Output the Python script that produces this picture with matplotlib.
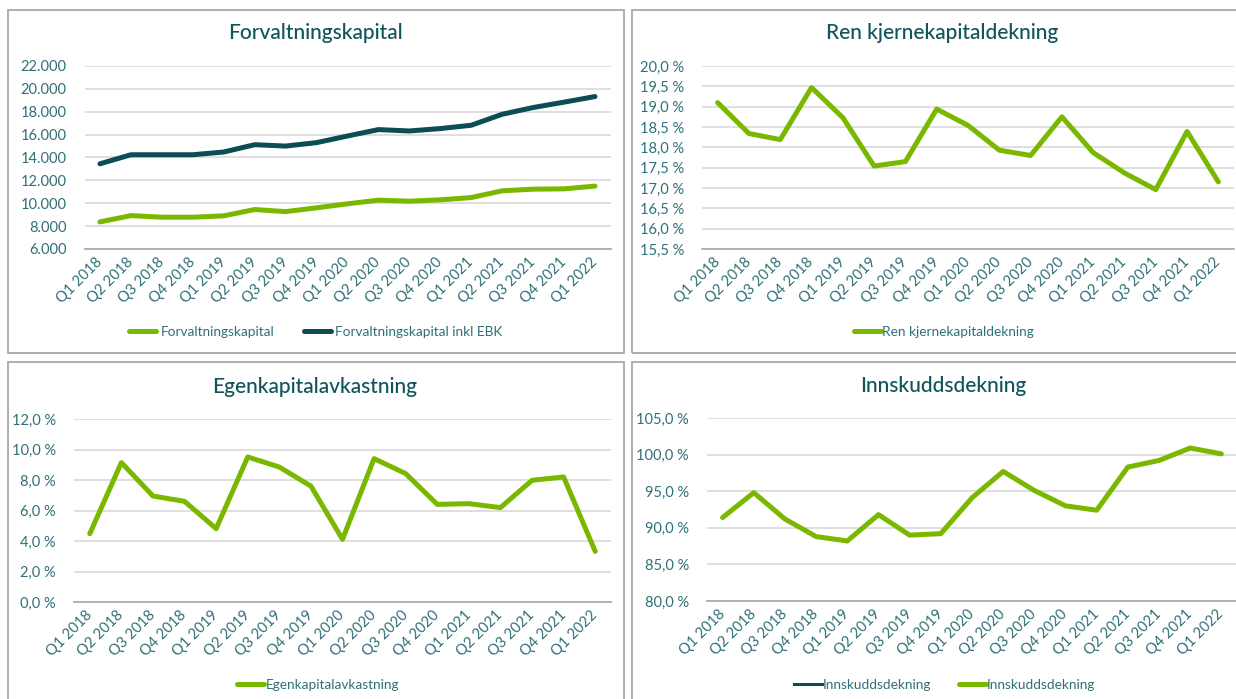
import matplotlib
matplotlib.use("Agg")
import matplotlib.pyplot as plt
from matplotlib.patches import Rectangle
from matplotlib.ticker import FuncFormatter

plt.rcParams['font.family'] = ['Lato', 'DejaVu Sans']

W, H = 1236, 699

quarters = ["Q1 2018", "Q2 2018", "Q3 2018", "Q4 2018",
            "Q1 2019", "Q2 2019", "Q3 2019", "Q4 2019",
            "Q1 2020", "Q2 2020", "Q3 2020", "Q4 2020",
            "Q1 2021", "Q2 2021", "Q3 2021", "Q4 2021",
            "Q1 2022"]

# Forvaltningskapital (MNOK)
forvaltning = [8370, 8920, 8780, 8780, 8900, 9450, 9270, 9600, 9950,
               10270, 10180, 10300, 10500, 11090, 11230, 11260, 11500]
forvaltning_ebk = [13450, 14240, 14240, 14240, 14480, 15120, 15000, 15300, 15880,
                   16440, 16320, 16530, 16820, 17780, 18370, 18840, 19330]

# Ren kjernekapitaldekning (%)
ren_kjerne = [19.10, 18.34, 18.19, 19.47, 18.73, 17.54, 17.65, 18.94, 18.54,
              17.93, 17.80, 18.75, 17.87, 17.37, 16.96, 18.39, 17.15]

# Egenkapitalavkastning (%)
egenkap = [4.48, 9.14, 6.95, 6.60, 4.81, 9.51, 8.85, 7.60, 4.11,
           9.40, 8.42, 6.40, 6.45, 6.19, 7.98, 8.20, 3.32]

# Innskuddsdekning (%)
innskudd = [91.4, 94.8, 91.2, 88.8, 88.2, 91.8, 89.0, 89.2, 94.1,
            97.7, 95.1, 93.0, 92.4, 98.3, 99.2, 100.9, 100.1]

GREEN = "#7ab800"
DARK = "#0b4c55"
TEXT = "#2f7078"
TITLE = "#10545c"
GRID = "#d9d9d9"

fig = plt.figure(figsize=(W / 100, H / 100), dpi=100)


def px_axes(x0, y0, x1, y1):
    return fig.add_axes([x0 / W, 1 - y1 / H, (x1 - x0) / W, (y1 - y0) / H])


def panel(x0, y0, x1, y1):
    fig.patches.append(Rectangle((x0 / W, 1 - y1 / H), (x1 - x0) / W, (y1 - y0) / H,
                                 transform=fig.transFigure, fill=False,
                                 edgecolor="#a8a8a8", linewidth=1.3))


def style(ax, ymin, ymax, step, fmt, title, tx, ty):
    x = list(range(len(quarters)))
    ax.set_xlim(-0.5, len(quarters) - 0.5)
    ax.set_ylim(ymin, ymax)
    ticks = []
    v = ymin
    while v <= ymax + 1e-9:
        ticks.append(v)
        v += step
    ax.set_yticks(ticks)
    ax.yaxis.set_major_formatter(FuncFormatter(fmt))
    ax.set_xticks(x)
    ax.set_xticklabels(quarters, rotation=45, ha="right", va="center",
                       rotation_mode="anchor")
    for s in ["top", "right", "left"]:
        ax.spines[s].set_visible(False)
    ax.spines["bottom"].set_color("#a6a6a6")
    ax.spines["bottom"].set_linewidth(1.2)
    ax.grid(axis="y", color=GRID, linewidth=1.2)
    ax.set_axisbelow(True)
    ax.tick_params(axis="both", length=0, labelsize=10.5, labelcolor=TEXT)
    ax.tick_params(axis="x", pad=8)
    ax.tick_params(axis="y", pad=13)
    fig.text(tx / W, 1 - ty / H, title, ha="center", va="center",
             fontsize=15, fontweight="medium", color=TITLE)


def thousands(v, pos):
    return f"{int(v):,}".replace(",", ".")


def pct(v, pos):
    return f"{v:.1f}".replace(".", ",") + " %"


panel(8, 10, 624, 353)
panel(632, 10, 1245, 353)
panel(8, 362, 624, 710)
panel(632, 362, 1245, 710)

x = list(range(len(quarters)))
LEG = dict(frameon=False, fontsize=9.8, labelcolor=TEXT, handlelength=2.0)

# Top left
ax1 = px_axes(84.5, 66, 610.5, 249)
l1, = ax1.plot(x, forvaltning, color=GREEN, linewidth=3.6, solid_capstyle="round",
               label="Forvaltningskapital")
l2, = ax1.plot(x, forvaltning_ebk, color=DARK, linewidth=3.6, solid_capstyle="round",
               label="Forvaltningskapital inkl EBK")
style(ax1, 6000, 22000, 2000, thousands, "Forvaltningskapital", 316, 33)
fig.legend(handles=[l1, l2], loc="center", bbox_to_anchor=(316 / W, 1 - 332 / H),
           ncol=2, handletextpad=0.3, columnspacing=2.2, **LEG)

# Top right
ax2 = px_axes(702, 66, 1234, 249)
l3, = ax2.plot(x, ren_kjerne, color=GREEN, linewidth=3.6, solid_capstyle="round",
               label="Ren kjernekapitaldekning")
style(ax2, 15.5, 20.0, 0.5, pct, "Ren kjernekapitaldekning", 942, 33)
fig.legend(handles=[l3], loc="center", bbox_to_anchor=(944 / W, 1 - 332 / H),
           handletextpad=0.1, **LEG)

# Bottom left
ax3 = px_axes(74, 419, 611, 602)
l4, = ax3.plot(x, egenkap, color=GREEN, linewidth=3.6, solid_capstyle="round",
               label="Egenkapitalavkastning")
style(ax3, 0.0, 12.0, 2.0, pct, "Egenkapitalavkastning", 315, 387)
fig.legend(handles=[l4], loc="center", bbox_to_anchor=(318 / W, 1 - 685 / H),
           handletextpad=0.1, **LEG)

# Bottom right
ax4 = px_axes(707, 418, 1237, 601)
l5, = ax4.plot([], [], color=DARK, linewidth=2.2, label="Innskuddsdekning")
l6, = ax4.plot(x, innskudd, color=GREEN, linewidth=3.6, solid_capstyle="round",
               label="Innskuddsdekning")
style(ax4, 80.0, 105.0, 5.0, pct, "Innskuddsdekning", 943, 386)
fig.legend(handles=[l5, l6], loc="center", bbox_to_anchor=(945 / W, 1 - 685 / H),
           ncol=2, handletextpad=0.1, columnspacing=2.0, **LEG)

fig.savefig("out.png", dpi=100, facecolor="white")
